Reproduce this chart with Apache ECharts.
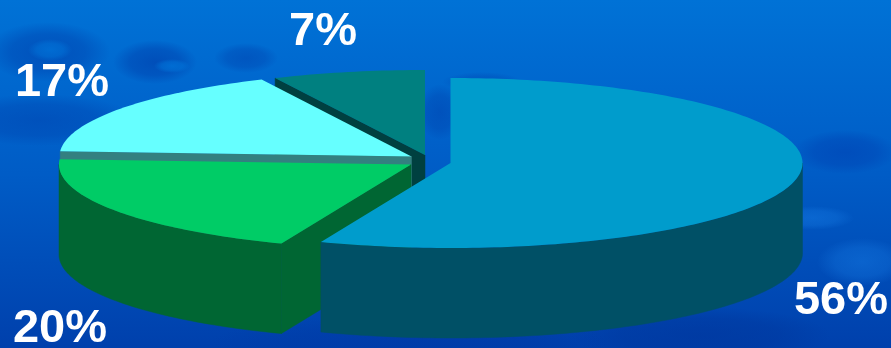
<!DOCTYPE html>
<html>
<head>
<meta charset="utf-8">
<style>html,body{margin:0;padding:0;background:#0058c0}#chart{width:891px;height:348px}</style>
<script src="https://cdn.jsdelivr.net/npm/echarts@6/dist/echarts.min.js"></script>
</head>
<body>
<div id="chart"></div>
<script>
// Shares of the pie, clockwise from twelve o'clock
const shares = [56, 20, 17, 7];
const topColors = ['#009ccc', '#00cc66', '#66ffff', '#008080'];
const wallColors = ['#005066', '#006633', '#338080', '#004040'];

// Exploded hub of each slice, and where its percentage sits
const hubs = [[450.5, 163], [411, 164.5], [411.5, 156.5], [425, 155]];
const labelSpots = [[841, 301], [60, 329], [62, 83], [323, 32]];

const RX = 352, RY = 85, DEPTH = 90, ARC_STEP = 0.02;

// Start and end angles (radians, clockwise from the top) from the shares
const total = shares.reduce((a, b) => a + b, 0);
const spans = [];
shares.reduce((acc, v) => {
  spans.push([acc / total * 2 * Math.PI, (acc + v) / total * 2 * Math.PI]);
  return acc + v;
}, 0);

function rimPoint(hub, a) {
  return [hub[0] + RX * Math.sin(a), hub[1] - RY * Math.cos(a)];
}
function arcPoints(hub, a0, a1) {
  const pts = [];
  const n = Math.max(2, Math.ceil((a1 - a0) / ARC_STEP));
  for (let i = 0; i <= n; i++) pts.push(rimPoint(hub, a0 + (a1 - a0) * i / n));
  return pts;
}
const drop = p => [p[0], p[1] + DEPTH];

function renderSlice(params, api) {
  const i = api.value(0);
  const [a0, a1] = spans[i];
  const hub = hubs[i];
  const children = [];
  const wall = pts => children.push({
    type: 'polygon', shape: { points: pts },
    style: { fill: wallColors[i], stroke: wallColors[i], lineWidth: 0.5 }
  });
  // A radial cut shows only when its outward side leans toward the viewer
  if (Math.sin(a0) < -1e-6) {
    const p = rimPoint(hub, a0);
    wall([hub, p, drop(p), drop(hub)]);
  }
  if (Math.sin(a1) > 1e-6) {
    const p = rimPoint(hub, a1);
    wall([hub, p, drop(p), drop(hub)]);
  }
  // Outer rim: only the front half of the ellipse is seen
  const r0 = Math.max(a0, Math.PI / 2), r1 = Math.min(a1, 1.5 * Math.PI);
  if (r1 > r0) {
    const arc = arcPoints(hub, r0, r1);
    wall(arc.concat(arc.slice().reverse().map(drop)));
  }
  // Top face
  children.push({
    type: 'polygon',
    shape: { points: [hub].concat(arcPoints(hub, a0, a1)) },
    style: { fill: topColors[i] }
  });
  // Percentage label
  children.push({
    type: 'text', z2: 10,
    style: {
      x: labelSpots[i][0], y: labelSpots[i][1],
      text: shares[i] + '%',
      fill: '#ffffff',
      font: 'bold 47px "Liberation Sans", Arial, sans-serif',
      align: 'center', verticalAlign: 'middle'
    }
  });
  return { type: 'group', children };
}

// Soft mottling of the backdrop: [x, y, rx, ry, colour, opacity]
const blobs = [
  [48, 52, 62, 30, '0,60,170', 0.55], [50, 50, 22, 11, '0,125,225', 0.6],
  [155, 62, 42, 22, '0,60,170', 0.6], [172, 66, 18, 7, '0,125,225', 0.6],
  [246, 58, 32, 15, '0,60,170', 0.45],
  [40, 120, 95, 26, '0,55,165', 0.4],
  [482, 82, 40, 10, '0,60,170', 0.35], [440, 112, 22, 28, '0,55,165', 0.4],
  [845, 152, 52, 22, '0,60,175', 0.5], [812, 218, 42, 12, '20,120,225', 0.5],
  [862, 262, 45, 24, '20,120,225', 0.5], [700, 335, 130, 28, '0,50,150', 0.45],
  [410, 342, 200, 26, '0,50,160', 0.3]
];
// Unit circles stretched into ellipses so the radial fade follows their shape
const blobGraphics = blobs.map(b => ({
  type: 'circle', silent: true,
  x: b[0], y: b[1], scaleX: b[2] / b[3], scaleY: 1,
  shape: { cx: 0, cy: 0, r: b[3] },
  style: {
    fill: {
      type: 'radial', x: 0.5, y: 0.5, r: 0.5,
      colorStops: [
        { offset: 0, color: `rgba(${b[4]},${b[5]})` },
        { offset: 0.6, color: `rgba(${b[4]},${b[5] * 0.7})` },
        { offset: 1, color: `rgba(${b[4]},0)` }
      ]
    }
  }
}));

const chart = echarts.init(document.getElementById('chart'), null, { renderer: 'canvas' });
chart.setOption({
  animation: false,
  backgroundColor: {
    type: 'linear', x: 0, y: 0, x2: 0, y2: 1,
    colorStops: [
      { offset: 0, color: '#0072d6' },
      { offset: 0.5, color: '#005cc6' },
      { offset: 1, color: '#0040ac' }
    ]
  },
  graphic: { elements: blobGraphics },
  series: [{
    type: 'custom',
    coordinateSystem: 'none',
    silent: true,
    // Painted back to front: the farthest slice first
    data: shares.map((_, i) => [i]).reverse(),
    renderItem: renderSlice
  }]
});
</script>
</body>
</html>
